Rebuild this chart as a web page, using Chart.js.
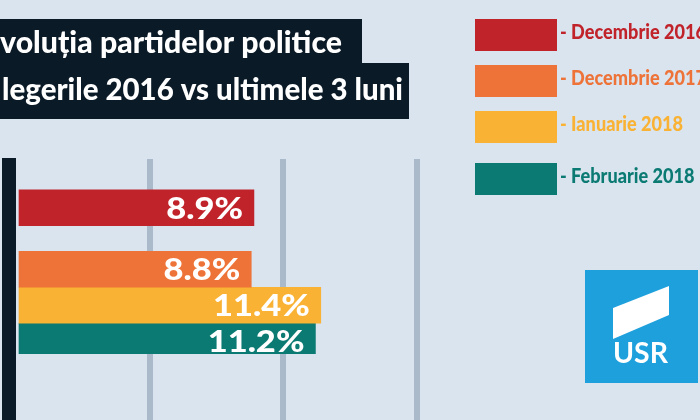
<!DOCTYPE html>
<html>
<head>
<meta charset="utf-8">
<script src="https://cdn.jsdelivr.net/npm/chart.js@4.4.0/dist/chart.umd.min.js"></script>
<style>
html, body { margin: 0; padding: 0; background: #d9e4ef; }
#wrap { width: 700px; height: 420px; }
</style>
</head>
<body>
<div id="wrap"><canvas id="usrChart" width="700" height="420"></canvas></div>
<script>
// groups on the y axis: the 2016 election vs the last 3 months
const groups = ['Alegeri 2016', 'Ultimele 3 luni'];
const seriesNames = ['Decembrie 2016', 'Decembrie 2017', 'Ianuarie 2018', 'Februarie 2018'];
const dec2016 = [8.9, null];
const dec2017 = [null, 8.8];
const ian2018 = [null, 11.4];
const feb2018 = [null, 11.2];
const gridTicks = [0, 5, 10, 15];
const titleLines = ['voluția partidelor politice', 'legerile 2016 vs ultimele 3 luni'];
const partyName = 'USR';

const seriesColors = ['#c1232b', '#ee7338', '#f9b233', '#0b7a73'];
const bgColor = '#d9e4ef';
const gridColor = '#aabacb';
const darkColor = '#0b1a27';
const usrBlue = '#1ea0dd';

const seriesData = [dec2016, dec2017, ian2018, feb2018];

// background, axis bar, title box, legend, logo
const decor = {
    id: 'decor',
    beforeDraw(chart) {
        const ctx = chart.ctx;
        ctx.save();
        ctx.fillStyle = bgColor;
        ctx.fillRect(0, 0, chart.width, chart.height);
        ctx.restore();
    },
    beforeDatasetsDraw(chart) {
        const ctx = chart.ctx;
        const area = chart.chartArea;
        ctx.save();
        ctx.fillStyle = darkColor;
        ctx.fillRect(area.left - 14, area.top - 1, 14, chart.height - area.top + 1);
        ctx.restore();
    },
    afterDraw(chart) {
        const ctx = chart.ctx;
        ctx.save();

        // title
        ctx.fillStyle = darkColor;
        ctx.fillRect(0, 19, 362, 45);
        ctx.fillRect(0, 63, 409, 56);
        ctx.fillStyle = '#ffffff';
        ctx.font = '900 30px Lato';
        ctx.textBaseline = 'alphabetic';
        ctx.textAlign = 'left';
        fitText(ctx, titleLines[0], 0, 53, 342);
        fitText(ctx, titleLines[1], 2, 100, 401);

        // legend
        const tops = [19, 65, 111, 163];
        ctx.font = '900 20px Lato';
        const squeeze = 123 / ctx.measureText('- ' + seriesNames[2]).width;
        seriesNames.forEach((name, i) => {
            ctx.fillStyle = seriesColors[i];
            ctx.fillRect(475, tops[i], 82, 32);
            const label = '- ' + name;
            fitText(ctx, label, 560, tops[i] + 20, ctx.measureText(label).width * squeeze);
        });

        // USR logo
        ctx.fillStyle = usrBlue;
        ctx.fillRect(585, 270, 113, 113);
        ctx.fillStyle = '#ffffff';
        ctx.beginPath();
        ctx.moveTo(613, 308);
        ctx.lineTo(669, 286);
        ctx.lineTo(669, 315);
        ctx.lineTo(613, 339);
        ctx.closePath();
        ctx.fill();
        ctx.font = 'bold 29px Lato';
        fitText(ctx, partyName, 613, 363, 55);

        ctx.restore();
    }
};

function fitText(ctx, text, x, y, width) {
    const w = ctx.measureText(text).width;
    ctx.save();
    ctx.translate(x, y);
    ctx.scale(width / w, 1);
    ctx.fillText(text, 0, 0);
    ctx.restore();
}

// white value labels inside the bar ends
const valueLabels = {
    id: 'valueLabels',
    afterDatasetsDraw(chart) {
        const ctx = chart.ctx;
        ctx.save();
        ctx.fillStyle = '#ffffff';
        ctx.font = '900 30px Lato';
        ctx.textAlign = 'right';
        ctx.textBaseline = 'alphabetic';
        chart.data.datasets.forEach((ds, di) => {
            const meta = chart.getDatasetMeta(di);
            meta.data.forEach((bar, i) => {
                const v = ds.data[i];
                if (v === null) {
                    return;
                }
                ctx.save();
                ctx.translate(bar.x - 11, bar.y + 11);
                ctx.scale(1.15, 1);
                ctx.fillText(v.toFixed(1) + '%', 0, 0);
                ctx.restore();
            });
        });
        ctx.restore();
    }
};

new Chart(
    document.getElementById('usrChart'),
    {
        type: 'bar',
        data: {
            labels: groups,
            datasets: seriesNames.map((name, i) => ({
                label: name,
                data: seriesData[i],
                backgroundColor: seriesColors[i],
                borderWidth: 0,
                barThickness: 36,
                skipNull: true
            }))
        },
        options: {
            indexAxis: 'y',
            responsive: false,
            animation: false,
            skipNull: true,
            layout: {
                padding: { left: 16, top: 159, right: 283, bottom: 0 }
            },
            plugins: {
                legend: { display: false },
                tooltip: { enabled: false }
            },
            scales: {
                x: {
                    type: 'linear',
                    position: 'bottom',
                    min: 0,
                    max: 15,
                    afterBuildTicks: scale => {
                        scale.ticks = gridTicks.map(v => ({ value: v }));
                    },
                    ticks: { display: false },
                    border: { display: false },
                    grid: {
                        color: c => (c.tick && c.tick.value === 0) ? 'rgba(0,0,0,0)' : gridColor,
                        lineWidth: 6,
                        drawTicks: true,
                        tickLength: 66
                    }
                },
                y: {
                    display: false
                }
            }
        },
        plugins: [decor, valueLabels]
    }
);
</script>
</body>
</html>
